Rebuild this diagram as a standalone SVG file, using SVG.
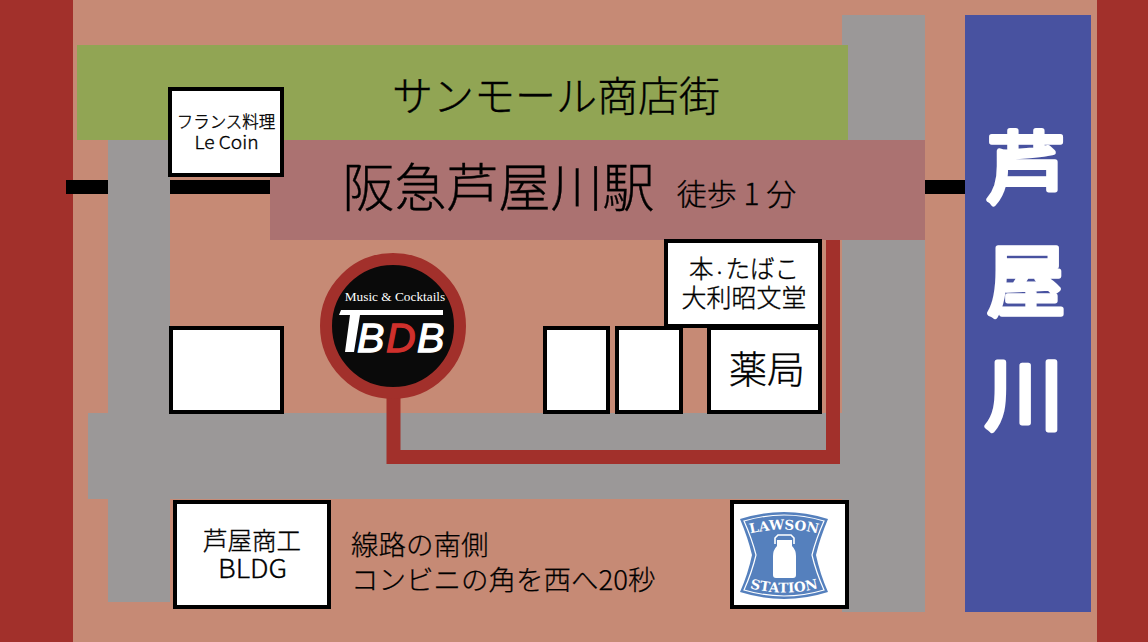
<svg xmlns="http://www.w3.org/2000/svg" width="1148" height="642" viewBox="0 0 1148 642">
<defs>
<path id="arc-top" d="M749 534Q784 525 819 534"/>
<path id="arc-bot" d="M749 588Q784 597 819 588"/>
</defs>
<style>
.box{fill:#fff;stroke:#000;stroke-width:4}
.road{fill:#9b9898}
.rail{fill:#000}
.t{font-family:"Noto Sans CJK JP","Liberation Sans",sans-serif;font-weight:300;fill:#000;stroke:#000;stroke-width:.35;text-anchor:middle}
.l{font-family:"Noto Sans CJK JP","Liberation Sans",sans-serif;font-weight:300;fill:#000;stroke:#000;stroke-width:.25;text-anchor:start}
.k{font-family:"Noto Sans CJK JP",sans-serif;fill:#fff;stroke:#fff;stroke-width:5.500;stroke-linejoin:round;stroke-linecap:round;text-anchor:middle;font-size:78px;font-weight:400}
.tb{font-family:"Liberation Sans",sans-serif;font-style:italic;font-size:41px;fill:#fff;stroke:#fff;stroke-width:1.300}
.ls{font-family:"DejaVu Serif",serif;font-weight:bold;font-size:13.500px;fill:#fff;text-anchor:middle}
</style>
<rect width="1148" height="642" fill="#c68a75"/>
<rect width="73" height="642" fill="#a2302b"/>
<rect x="1097" width="51" height="642" fill="#a2302b"/>
<g id="rails">
<rect class="rail" x="66" y="180" width="42" height="14"/>
<rect class="rail" x="170" y="180" width="100" height="14"/>
<rect class="rail" x="925" y="180" width="41" height="14"/>
</g>
<g id="roads">
<rect class="road" x="842" y="15" width="83" height="597"/>
<rect class="road" x="108" y="137" width="62" height="465"/>
<rect class="road" x="88" y="413" width="837" height="86"/>
</g>
<g id="shopping-street">
<rect x="77" y="45" width="771" height="95" fill="#91a554"/>
<text class="t" x="556" y="111" font-size="41">サンモール商店街</text>
</g>
<g id="station">
<rect x="270" y="140" width="655" height="100" fill="#ab7271"/>
<text class="t" x="498.500" y="207" font-size="52">阪急芦屋川駅</text>
<text class="t" x="736.500" y="205" font-size="30">徒歩 1 分</text>
</g>
<g id="connectors">
<path d="M393.500 385V457H833V240" fill="none" stroke="#a2302b" stroke-width="14"/>
</g>
<g id="le-coin">
<rect class="box" x="170" y="89" width="112" height="86"/>
<text class="t" x="226" y="128" font-size="16.500">フランス料理</text>
<text class="t" x="226.500" y="149" font-size="18" textLength="64" lengthAdjust="spacingAndGlyphs">Le Coin</text>
</g>
<g id="building-a"><rect class="box" x="171" y="328" width="111" height="84"/></g>
<g id="building-b"><rect class="box" x="545" y="328" width="63" height="84"/></g>
<g id="building-c"><rect class="box" x="617" y="328" width="64" height="84"/></g>
<g id="bookshop">
<rect class="box" x="666" y="241" width="154" height="85"/>
<text class="t" x="744" y="278" font-size="24.500">本<tspan font-size="12">・</tspan>たばこ</text>
<text class="t" x="744" y="307" font-size="25">大利昭文堂</text>
</g>
<g id="pharmacy">
<rect class="box" x="709" y="328" width="111" height="84"/>
<text class="t" x="767" y="383" font-size="38">薬局</text>
</g>
<g id="tbdb">
<circle cx="393" cy="326" r="67" fill="#0a0a0a" stroke="#a2302b" stroke-width="12"/>
<text x="395" y="301" font-family="Liberation Serif,serif" font-size="13.300" fill="#fff" text-anchor="middle">Music &amp; Cocktails</text>
<polygon points="341,310 443,310 443,315 360,315 354,352 345,352 350,315 339,315" fill="#fff"/>
<text class="tb" x="357" y="351.500">B</text>
<text class="tb" x="386" y="351.500" style="fill:#cf302c;stroke:#cf302c">D</text>
<text class="tb" x="417" y="351.500">B</text>
</g>
<g id="shoko-bldg">
<rect class="box" x="175" y="502" width="154" height="105"/>
<text class="t" x="252" y="549.500" font-size="24.500">芦屋商工</text>
<text class="t" x="252.500" y="578" font-size="26" textLength="69" lengthAdjust="spacingAndGlyphs">BLDG</text>
</g>
<g id="directions">
<text class="l" x="351" y="555" font-size="27.500">線路の南側</text>
<text class="l" x="351" y="590" font-size="27.500">コンビニの角を西へ20秒</text>
</g>
<g id="lawson">
<rect class="box" x="732" y="502" width="115" height="105"/>
<path d="M740 519Q784 505 828 519Q820 538 816 555Q820 574 828 592Q784 606 740 592Q748 574 752 555Q748 538 740 519Z" fill="#5580bd"/>
<path d="M744 521Q784 509 824 521Q816 539 812 555Q816 572 824 590Q784 602 744 590Q752 572 756 555Q752 539 744 521Z" fill="none" stroke="#fff" stroke-width="1.200"/>
<path d="M777 540H792V546Q796 550 796 556V575Q796 578 793 578H776Q773 578 773 575V556Q773 550 777 546Z" fill="#fff"/>
<path d="M775 544V538L778 535H791L794 538V544" fill="none" stroke="#fff" stroke-width="1.600"/>
<text class="ls"><textPath href="#arc-top" startOffset="50%">LAWSON</textPath></text>
<text class="ls"><textPath href="#arc-bot" startOffset="50%">STATION</textPath></text>
</g>
<g id="river">
<rect x="965" y="15" width="126" height="597" fill="#4852a0"/>
<text class="k" x="1026" y="197">芦</text>
<text class="k" x="1026" y="310">屋</text>
<text class="k" x="1024" y="424">川</text>
</g>
</svg>
